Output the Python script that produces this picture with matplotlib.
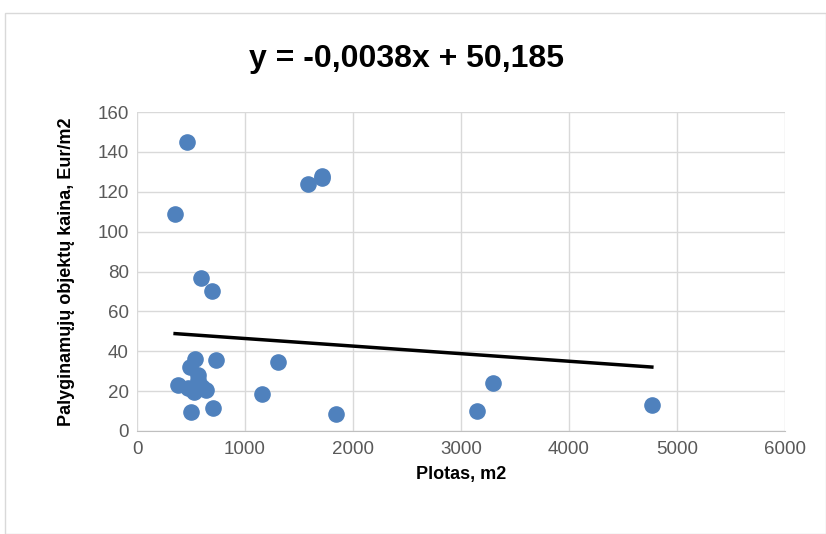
import matplotlib.pyplot as plt
import numpy as np

plt.rcParams['font.family'] = ['Liberation Sans Narrow', 'Liberation Sans', 'DejaVu Sans']

plotas = [463, 352, 593, 694, 1583, 1713, 1713, 3296, 3148, 1843, 4769,
          540, 731, 494, 562, 562, 383, 530, 639, 470, 1303, 1157, 500, 701, 600]
kaina = [145, 109, 77, 70, 124, 128, 127, 24, 10, 8.5, 13,
         36, 35.5, 32, 28, 25.5, 23, 19.5, 20.5, 21.5, 34.5, 18.5, 9.5, 11.5, 22]

slope = -0.0038
intercept = 50.185
title = 'y = -0,0038x + 50,185'

fig = plt.figure(figsize=(8.26, 5.34), dpi=100)
fig.patches.append(plt.Rectangle((0.006, 0.0), 0.994, 0.975, transform=fig.transFigure,
                                 fill=False, edgecolor='#d9d9d9', linewidth=1))
ax = fig.add_axes([0.166, 0.193, 0.784, 0.597])

ax.scatter(plotas, kaina, s=120, color='#4f81bd', zorder=3)

x_line = np.array([min(plotas), max(plotas)])
ax.plot(x_line, slope * x_line + intercept, color='black', linewidth=2.5, zorder=4)

ax.set_xlim(0, 6000)
ax.set_ylim(0, 160)
ax.set_xticks(range(0, 6001, 1000))
ax.set_yticks(range(0, 161, 20))
ax.grid(True, color='#d9d9d9', linewidth=1)
ax.set_axisbelow(True)
for side in ['top', 'right', 'left']:
    ax.spines[side].set_visible(False)
ax.spines['bottom'].set_color('#bfbfbf')
ax.tick_params(length=0, labelsize=13.5, colors='#595959')
ax.tick_params(axis='x', pad=7)
ax.tick_params(axis='y', pad=6)

fig.text(0.492, 0.890, title, fontsize=23, fontweight='bold', ha='center', va='center')
ax.set_xlabel('Plotas, m2', fontsize=13, fontweight='bold', labelpad=6)
ax.set_ylabel('Palyginamųjų objektų kaina, Eur/m2', fontsize=13, fontweight='bold', labelpad=16)

fig.savefig('out.png', dpi=100)
